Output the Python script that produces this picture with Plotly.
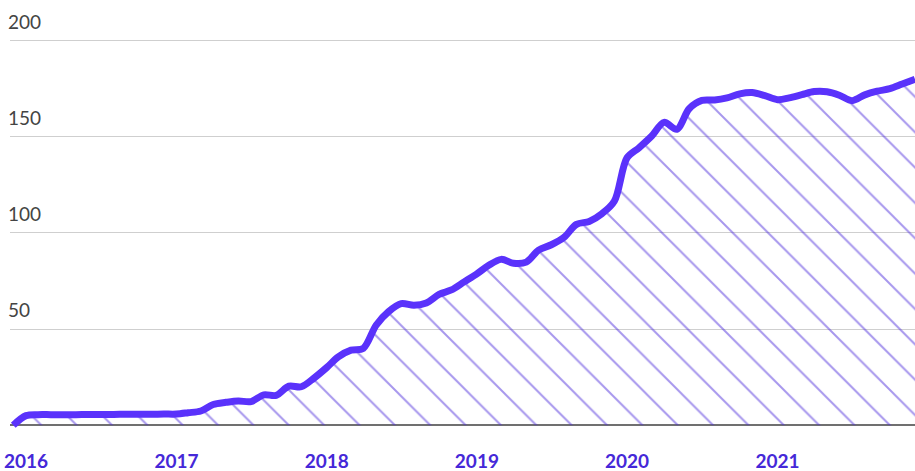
import pandas as pd
import plotly.graph_objects as go

# monthly values, Jan 2016 .. Jan 2022
months = pd.date_range("2016-01-01", periods=73, freq="MS")
values = [
    0, 5.0, 5.5, 5.5, 5.5, 5.5, 5.6, 5.6, 5.6, 5.7, 5.7, 5.7,
    5.8, 5.8, 6.5, 7.4, 10.8, 11.9, 12.6, 12.3, 15.8, 15.5, 20.3, 20.0,
    24.5, 30.0, 35.5, 39.0, 40.0, 52.0, 59.0, 63.2, 62.3, 63.5, 68.0, 70.3,
    74.5, 78.7, 83.0, 86.2, 84.2, 84.8, 91.0, 93.8, 97.7, 104.4, 105.9, 109.8,
    116.4, 139.0, 144.2, 150.3, 157.4, 153.8, 164.5, 168.8, 169.0, 170.1, 172.2, 172.9,
    171.3, 169.2, 170.1, 171.8, 173.4, 173.3, 171.5, 168.7, 171.7, 173.6, 174.9, 177.3,
    179.8,
]

year_labels = ["2016", "2017", "2018", "2019", "2020", "2021"]
year_ticks = [f"{y}-02-01" for y in year_labels]
y_ticks = [50, 100, 150, 200]

LINE = "#5a32fb"
HATCH = "#4f2fdc"
LABEL = "#4528d8"

fig = go.Figure()
fig.add_trace(go.Scatter(
    x=months, y=values,
    mode="lines",
    line=dict(color=LINE, width=7, shape="spline", smoothing=0.9),
    fill="tozeroy",
    fillcolor="rgba(0,0,0,0)",
    fillpattern=dict(shape="\\", fgcolor=HATCH, size=25, solidity=0.08),
    hoverinfo="skip",
    showlegend=False,
))

fig.update_layout(
    width=915, height=471,
    margin=dict(l=10, r=0, t=5, b=40),
    paper_bgcolor="white", plot_bgcolor="white",
    font=dict(family="Lato, sans-serif"),
)
fig.update_xaxes(
    type="date",
    range=["2015-12-24", "2022-01-01"],
    showgrid=False, showline=False, zeroline=False,
    tickvals=year_ticks, ticktext=year_labels,
    ticks="", ticklabelstandoff=17, ticklabeloverflow="allow",
    automargin=False,
    tickfont=dict(size=19, color=LABEL, weight=700),
)
fig.update_yaxes(
    range=[-3, 218.4],
    tickvals=y_ticks,
    showgrid=True, gridcolor="#cfcfcf", gridwidth=1,
    zeroline=True, zerolinecolor="#707070", zerolinewidth=2,
    showline=False, ticks="",
    ticklabelposition="inside top",
    ticklabelshift=-5, ticklabelstandoff=-5, ticklabeloverflow="allow",
    automargin=False,
    tickfont=dict(size=19, color="#444444"),
)

fig.write_html("out.html", config={"displayModeBar": False},
               post_script="document.body.style.margin='0px';")
